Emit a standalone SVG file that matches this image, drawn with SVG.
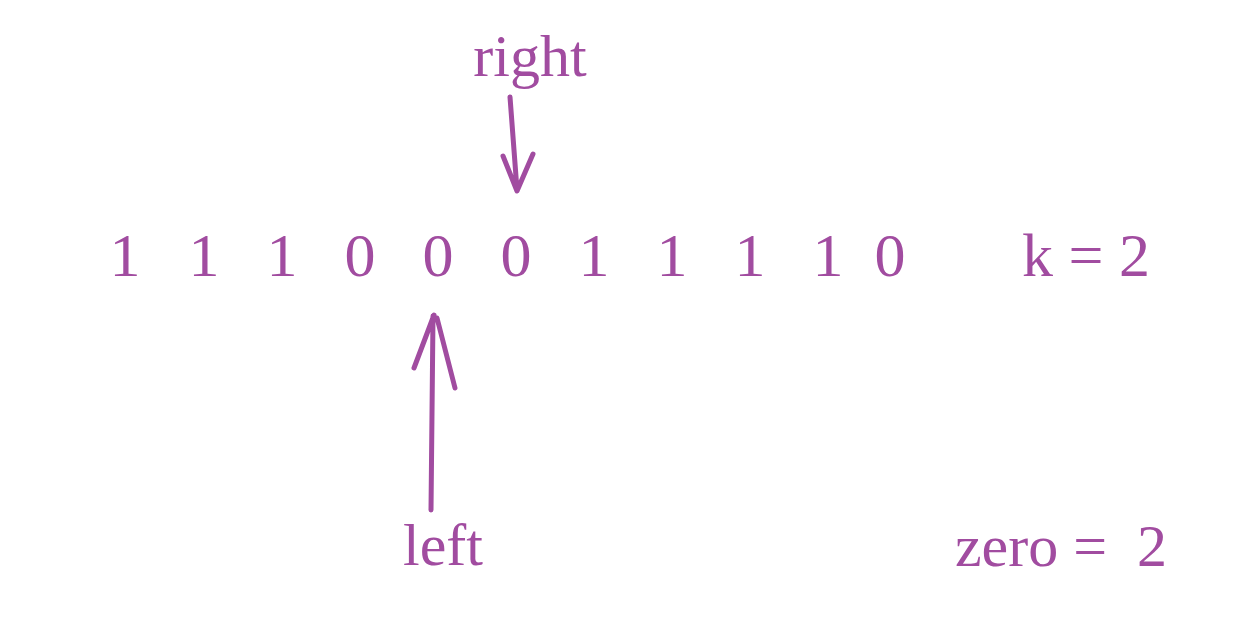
<svg xmlns="http://www.w3.org/2000/svg" width="1260" height="623" viewBox="0 0 1260 623">
<style>
text{font-family:"Liberation Serif","Times New Roman",serif;fill:#a14ca0;}
.d{font-size:62px;text-anchor:middle;}
.l{font-size:60px;}
.c{fill:none;stroke:#a14ca0;stroke-width:5;stroke-linecap:round;stroke-linejoin:round;}
</style>
<rect width="1260" height="623" fill="#fff"/>
<g id="array">
<text class="d" x="125" y="276">1</text>
<text class="d" x="204" y="276">1</text>
<text class="d" x="282" y="276">1</text>
<text class="d" x="360" y="276">0</text>
<text class="d" x="438" y="276">0</text>
<text class="d" x="516" y="276">0</text>
<text class="d" x="594" y="276">1</text>
<text class="d" x="672" y="276">1</text>
<text class="d" x="750" y="276">1</text>
<text class="d" x="828" y="276">1</text>
<text class="d" x="890" y="276">0</text>
</g>
<g id="k"><text class="d" x="1086" y="276">k = 2</text></g>
<g id="right"><text class="l" x="530" y="76" text-anchor="middle">right</text></g>
<g id="left"><text class="l" x="443" y="565" text-anchor="middle">left</text></g>
<g id="zero"><text class="l" x="1061" y="566" text-anchor="middle" xml:space="preserve">zero =  2</text></g>
<g id="connectors">
<path class="c" d="M510,97 L517,190 M503,156 L517,191 L533,154"/>
<path class="c" d="M431,510 L433,316 M414,368 L434,315 M437,318 L455,388"/>
</g>
</svg>
